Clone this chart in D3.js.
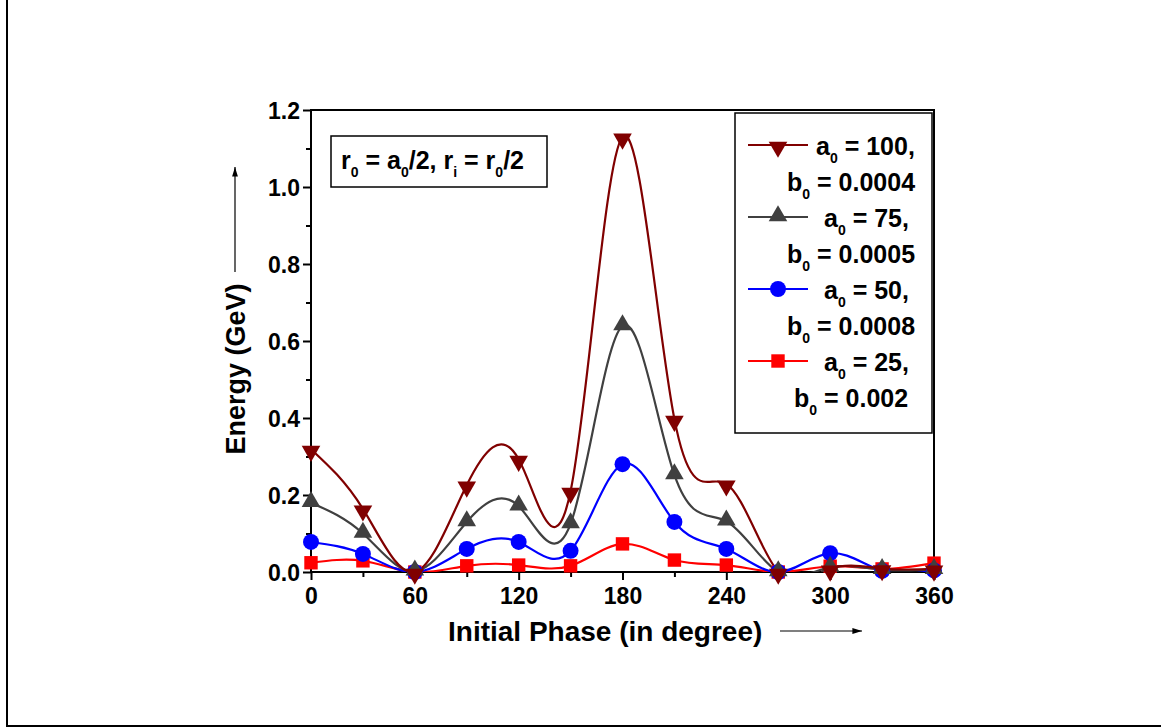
<!DOCTYPE html>
<html>
<head>
<meta charset="utf-8">
<script src="https://cdn.jsdelivr.net/npm/d3@7"></script>
<style>
body { margin: 0; background: #fff; }
svg text { font-family: "Liberation Sans", Arial, sans-serif; font-weight: bold; fill: #000; }
</style>
</head>
<body>
<div id="body"></div>
<script>
// data
let phases = [0, 30, 60, 90, 120, 150, 180, 210, 240, 270, 300, 330, 360]
let energy100 = [0.319, 0.164, 0.0, 0.226, 0.293, 0.21, 1.13, 0.397, 0.229, 0.0, 0.008, 0.009, 0.008]
let energy75 = [0.18, 0.1, 0.002, 0.13, 0.171, 0.125, 0.639, 0.252, 0.132, 0.0, 0.012, 0.006, 0.006]
let energy50 = [0.078, 0.047, 0.0, 0.06, 0.078, 0.055, 0.28, 0.13, 0.06, 0.0, 0.049, 0.003, 0.004]
let energy25 = [0.024, 0.029, 0.0, 0.016, 0.018, 0.016, 0.073, 0.031, 0.018, 0.0, 0.015, 0.008, 0.023]
let xTicks = [0, 60, 120, 180, 240, 300, 360]
let yTicks = [0, 0.2, 0.4, 0.6, 0.8, 1.0, 1.2]
let seriesA = ['100', '75', '50', '25']
let seriesB = ['0.0004', '0.0005', '0.0008', '0.002']

let size = {
  width: 1161,
  height: 727,
  left: 311, right: 934, top: 110, bottom: 572
}

let series = [
  { vals: energy100, color: '#800000', shape: 'down' },
  { vals: energy75, color: '#404040', shape: 'up' },
  { vals: energy50, color: '#0000ff', shape: 'circle' },
  { vals: energy25, color: '#ff0000', shape: 'square' }
]

let svg = d3.select('#body')
  .append('svg')
  .attr('width', size.width)
  .attr('height', size.height)

// page frame (left and bottom only)
svg.append('line').attr('x1', 7).attr('x2', 7).attr('y1', 0).attr('y2', 726)
  .attr('stroke', '#000').attr('stroke-width', 2)
svg.append('line').attr('x1', 6).attr('x2', size.width).attr('y1', 726).attr('y2', 726)
  .attr('stroke', '#000').attr('stroke-width', 2)

let xScale = d3.scaleLinear().domain([0, 360]).range([size.left, size.right])
let yScale = d3.scaleLinear().domain([0, 1.2]).range([size.bottom, size.top])

// clip for curves
svg.append('clipPath').attr('id', 'plot-clip')
  .append('rect')
  .attr('x', size.left).attr('y', size.top)
  .attr('width', size.right - size.left).attr('height', size.bottom - size.top)

// axes
let xAxis = d3.axisBottom(xScale).tickValues(xTicks).tickFormat(d3.format('d')).tickSize(8).tickPadding(6)
let xMinor = d3.axisBottom(xScale).tickValues(d3.range(30, 360, 60)).tickFormat('').tickSize(5)
let yAxis = d3.axisLeft(yScale).tickValues(yTicks).tickFormat(d3.format('.1f')).tickSize(8).tickPadding(3)
let yMinor = d3.axisLeft(yScale).tickValues(d3.range(0.1, 1.2, 0.2)).tickFormat('').tickSize(5)

let gX = svg.append('g').attr('transform', `translate(0,${size.bottom})`).call(xAxis)
svg.append('g').attr('transform', `translate(0,${size.bottom})`).call(xMinor)
let gY = svg.append('g').attr('transform', `translate(${size.left},0)`).call(yAxis)
svg.append('g').attr('transform', `translate(${size.left},0)`).call(yMinor)

svg.selectAll('.domain').remove()
svg.selectAll('.tick line').attr('stroke', '#000').attr('stroke-width', 2)
gX.selectAll('text').style('font-size', '23px').attr('dy', '0.78em')
gY.selectAll('text').style('font-size', '23px').attr('dy', '0.36em')

// plot frame
svg.append('rect')
  .attr('x', size.left).attr('y', size.top)
  .attr('width', size.right - size.left).attr('height', size.bottom - size.top)
  .attr('fill', 'none').attr('stroke', '#000').attr('stroke-width', 2)

// curves
let line = d3.line()
  .x((d, i) => xScale(phases[i]))
  .y(d => yScale(d))
  .curve(d3.curveNatural)

let symbolFor = (shape) => {
  if (shape == 'circle') return d3.symbol().type(d3.symbolCircle).size(200)
  if (shape == 'square') return d3.symbol().type(d3.symbolSquare).size(180)
  return d3.symbol().type(d3.symbolTriangle).size(150)
}
let nudge = (shape) => shape == 'down' ? 2 : shape == 'up' ? -1 : 0

series.slice().reverse().forEach(s => {
  svg.append('path')
    .datum(s.vals)
    .attr('clip-path', 'url(#plot-clip)')
    .attr('d', line)
    .attr('fill', 'none')
    .attr('stroke', s.color)
    .attr('stroke-width', 2.2)
})
series.slice().reverse().forEach(s => {
  svg.append('g')
    .selectAll('path')
    .data(s.vals)
    .join('path')
    .attr('d', symbolFor(s.shape))
    .attr('transform', (d, i) => `translate(${xScale(phases[i])},${yScale(d) + nudge(s.shape)}) rotate(${s.shape == 'down' ? 180 : 0})`)
    .attr('fill', s.color)
})

// text with subscripts: parts alternate normal / subscript
let subText = (x, y, parts, fs) => {
  let t = svg.append('text').attr('x', x).attr('y', y).style('font-size', fs + 'px')
  parts.forEach((p, i) => {
    let sp = t.append('tspan').text(p)
    if (i % 2 == 1) sp.attr('dy', 8).style('font-size', Math.round(fs * 0.58) + 'px')
    else if (i > 0) sp.attr('dy', -8)
  })
  return t
}

// annotation box
svg.append('rect').attr('x', 331).attr('y', 136).attr('width', 216).attr('height', 51)
  .attr('fill', '#fff').attr('stroke', '#000').attr('stroke-width', 1.5)
subText(341, 169, ['r', '0', ' = a', '0', '/2, r', 'i', ' = r', '0', '/2'], 25)

// legend
svg.append('rect').attr('x', 735).attr('y', 113).attr('width', 197).attr('height', 320)
  .attr('fill', '#fff').attr('stroke', '#000').attr('stroke-width', 1.5)
let aX = [816, 824, 824, 824]
let bX = [787, 787, 787, 794]
series.forEach((s, i) => {
  let yA = 145 + i * 72
  svg.append('line').attr('x1', 748).attr('x2', 808).attr('y1', yA).attr('y2', yA)
    .attr('stroke', s.color).attr('stroke-width', 2.2)
  svg.append('path').attr('d', symbolFor(s.shape))
    .attr('transform', `translate(778,${yA + nudge(s.shape)}) rotate(${s.shape == 'down' ? 180 : 0})`)
    .attr('fill', s.color)
  subText(aX[i], yA + 10, ['a', '0', ` = ${seriesA[i]},`], 25)
  subText(bX[i], yA + 46, ['b', '0', ` = ${seriesB[i]}`], 25)
})

// axis titles with arrows
svg.append('defs').append('marker')
  .attr('id', 'arrow').attr('viewBox', '0 0 10 10').attr('refX', 10).attr('refY', 5)
  .attr('markerWidth', 8).attr('markerHeight', 8).attr('orient', 'auto')
  .append('path').attr('d', 'M0,2 L10,5 L0,8 Z').attr('fill', '#000')

svg.append('text').attr('x', 448).attr('y', 641).style('font-size', '28px')
  .text('Initial Phase (in degree)')
svg.append('line').attr('x1', 780).attr('x2', 862).attr('y1', 631).attr('y2', 631)
  .attr('stroke', '#000').attr('stroke-width', 1.2).attr('marker-end', 'url(#arrow)')

svg.append('text').attr('transform', 'translate(245,369) rotate(-90)').style('font-size', '27px')
  .attr('text-anchor', 'middle')
  .text('Energy (GeV)')
svg.append('line').attr('x1', 235).attr('x2', 235).attr('y1', 272).attr('y2', 167)
  .attr('stroke', '#000').attr('stroke-width', 1.2).attr('marker-end', 'url(#arrow)')
</script>
</body>
</html>
